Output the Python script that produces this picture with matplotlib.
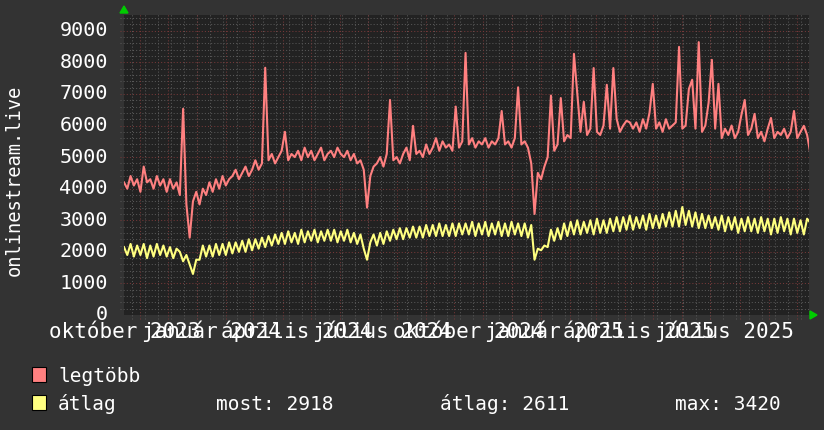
import matplotlib
matplotlib.use("Agg")
import matplotlib.pyplot as plt
import matplotlib.transforms as mtransforms
from matplotlib.patches import Rectangle, Polygon
import numpy as np

# ---------------- data (one value every 3.5 days, starting 2023-10-15) ----------------
max_vals = [
    4200, 4000, 4400, 4100, 4300, 3900, 4700, 4200, 4300, 4000, 4400, 4100, 4300, 3900, 4300, 4000, 4200,
    3800, 6530, 3500, 2450, 3600, 3900, 3500, 4000, 3800, 4200, 3900, 4300, 4000, 4400, 4100, 4300,
    4400, 4600, 4300, 4500, 4700, 4400, 4600, 4900, 4600, 4800, 7830, 4900,
    5100, 4800, 5000, 5200, 5800, 4900, 5100, 5000, 5200, 4900, 5300, 5000, 5200, 4900, 5100, 5300, 4900, 5100, 5200,
    5000, 5300, 5100, 5000, 5200, 4900, 5100, 4800, 4900, 4600,
    3400, 4400, 4700, 4800, 5000, 4700, 5100, 6810, 4900, 5000, 4800, 5100, 5300, 4900, 5990, 5100, 5200,
    5000, 5400, 5100, 5300, 5600, 5200, 5500, 5300, 5400, 5200, 6600, 5300, 5500, 8300,
    5400, 5600, 5300, 5500, 5400, 5600, 5300, 5500, 5400, 5600, 6460, 5400, 5500, 5300, 5600, 7210, 5400, 5500, 5300, 4800,
    3200, 4500, 4300, 4700, 5000, 6950, 5200, 5400, 6870, 5500, 5700, 5600, 8270, 7030, 5800, 6750, 5700, 5900, 7820, 5800,
    5700, 6000, 7290, 5900, 7820, 6210, 5800,
    6000, 6150, 6100, 5900, 6100, 5800, 6200, 5900, 6400, 7320, 5900, 6100, 5800, 6200, 5900, 6000, 6100, 8490, 5900, 6000,
    7160, 7450, 5900, 8640,
    5800, 6000, 6720, 8080, 5900, 7320, 5600, 5900, 5700, 6000, 5600, 5800, 6340, 6810, 5700, 5900, 6370, 5600, 5800, 5500,
    5900, 6240, 5600, 5800, 5700, 5900, 5600, 5800, 6460, 5600, 5800, 5990, 5700, 5100,
]

avg_vals = [
    2150, 1900, 2250, 1850, 2200, 1900, 2250, 1800, 2200, 1850, 2250, 1900, 2200, 1850, 2150, 1800, 2100,
    2000, 1700, 1900, 1600, 1300, 1750,
    1750, 2200, 1850, 2200, 1850, 2250, 1900, 2250, 1900, 2300, 1950, 2300, 2000, 2350, 2000, 2400, 2050, 2400, 2100,
    2450, 2150,
    2500, 2200, 2550, 2250, 2600, 2250, 2650, 2300, 2600, 2250, 2700, 2300, 2650, 2350, 2700, 2300, 2650, 2350, 2700, 2350,
    2700, 2300, 2650, 2350, 2700, 2300, 2600, 2250, 2550, 2100,
    1750, 2300, 2550, 2200, 2600, 2250,
    2650, 2350, 2700, 2400, 2750, 2400, 2750, 2450, 2800, 2450, 2800, 2450, 2850, 2500, 2850, 2500, 2900, 2500, 2850, 2500,
    2900, 2500, 2900, 2550, 2900,
    2550, 2950, 2500, 2900, 2550, 2950, 2500, 2900, 2550, 2950, 2500, 2900, 2500, 2950, 2550, 2900, 2500, 2900, 2450, 2850,
    1750, 2100, 2050, 2200, 2150, 2700, 2350, 2750, 2400,
    2900, 2500, 2950, 2550, 3000, 2550, 2950, 2600, 3000, 2550, 3050, 2600, 3000, 2600, 3050, 2650, 3100, 2650,
    3100, 2700, 3150, 2700, 3100, 2750, 3150, 2700, 3200, 2750, 3150, 2750, 3200, 2800, 3250, 2800, 3300, 2800, 3420, 2850,
    3300, 2800, 3250, 2750,
    3200, 2750, 3150, 2750, 3100, 2700, 3150, 2650, 3100, 2700, 3100, 2600, 3050, 2650, 3100, 2650, 3050, 2600, 3100, 2650,
    3050, 2550, 3050, 2600, 3100, 2650, 3050, 2550, 3050, 2600, 3000, 2550, 3050, 2918,
]

month_labels = ["október 2023", "január 2024", "április 2024", "július 2024",
                "október 2024", "január 2025", "április 2025", "július 2025"]
label_months = ["2023-10", "2024-01", "2024-04", "2024-07", "2024-10", "2025-01", "2025-04", "2025-07"]
y_ticks = [0, 1000, 2000, 3000, 4000, 5000, 6000, 7000, 8000, 9000]
legend_names = ["legtöbb", "átlag"]
stats = {"most": 2918, "átlag": 2611, "max": 3420}

# ---------------- figure ----------------
W, H = 824, 430
BG = "#333333"
PLOT_BG = "#222222"
RED = "#ff8080"
YEL = "#ffff80"
TXT = "#ffffff"
FONT = "DejaVu Sans Mono"

fig = plt.figure(figsize=(W / 100, H / 100), dpi=100)
fig.patch.set_facecolor(BG)
L, R, T, B = 124, 809, 15, 315
ax = fig.add_axes([L / W, 1 - B / H, (R - L) / W, (B - T) / H])
ax.set_facecolor(PLOT_BG)
for s in ax.spines.values():
    s.set_visible(False)

start = np.datetime64("2023-10-15T00:00")
end = start + np.timedelta64(730, "D")
step = np.timedelta64(84, "h")
max_dates = start + step * np.arange(len(max_vals))
avg_dates = start + step * np.arange(len(avg_vals))

ax.set_xlim(start, end)
ax.set_ylim(0, 9500)
ax.set_xticks([])
ax.set_yticks([])

# grid
minor_col = "#575757"
major_col = "#743838"
dot = (0, (1, 2))
bl = mtransforms.blended_transform_factory(ax.transData, ax.transAxes)
bl_y = mtransforms.blended_transform_factory(ax.transAxes, ax.transData)

biweekly = np.arange(np.datetime64("2023-10-23"), np.datetime64("2025-10-15"), np.timedelta64(14, "D"))
months = np.arange(np.datetime64("2023-11"), np.datetime64("2025-11"), np.timedelta64(1, "M")).astype("datetime64[D]")
for d in biweekly:
    ax.plot([d, d], [-0.012, 1.008], transform=bl, color=minor_col, lw=0.75, ls=dot, clip_on=False, zorder=1)
for d in months:
    ax.plot([d, d], [-0.012, 1.008], transform=bl, color=major_col, lw=0.75, ls=dot, clip_on=False, zorder=1.1)
for v in range(200, 9500, 200):
    if v % 1000:
        ax.plot([-0.006, 1.0], [v, v], transform=bl_y, color=minor_col, lw=0.75, ls=dot, clip_on=False, zorder=1)
for v in range(1000, 9500, 1000):
    ax.plot([-0.006, 1.0], [v, v], transform=bl_y, color=major_col, lw=0.75, ls=dot, clip_on=False, zorder=1.1)

# data lines
ax.plot(max_dates, max_vals, color=RED, lw=1.5, zorder=3)
ax.plot(avg_dates, avg_vals, color=YEL, lw=1.5, zorder=4)


def px(x, y):
    return x / W, 1 - y / H


# y tick labels
for v in y_ticks:
    ypix = B - v * (B - T) / 9500
    fig.text(*px(108, ypix), f"{v}", ha="right", va="center", color=TXT, fontsize=14.5, family=FONT)

# y axis title
fig.text(*px(14, 180), "onlinestream.live", rotation=90, ha="center", va="center",
         color=TXT, fontsize=13.5, family=FONT)

# x labels, centred half a month after the month start, common baseline
base_ax = (B - 338) / (B - T)
for lab, m in zip(month_labels, label_months):
    d = np.datetime64(m + "-16")
    ax.text(d, base_ax, lab, transform=bl, ha="center", va="baseline", color=TXT,
            fontsize=15, family=FONT, clip_on=False)

# arrows
fig.patches.append(Polygon([px(120, 13), px(128, 13), px(124, 6)], closed=True,
                           transform=fig.transFigure, color="#00cc00"))
fig.patches.append(Polygon([px(810, 311), px(810, 319), px(817, 315)], closed=True,
                           transform=fig.transFigure, color="#00cc00"))

# legend
for i, (name, col) in enumerate(zip(legend_names, [RED, YEL])):
    ytop = 367 + i * 28
    x0, y0 = px(32, ytop + 15)
    fig.patches.append(Rectangle((x0, y0), 14 / W, 15 / H, transform=fig.transFigure,
                                 facecolor=col, edgecolor="black", lw=0.8))
    fig.text(*px(58, ytop + 15), name, ha="left", va="baseline", color=TXT, fontsize=14, family=FONT)

yrow = 367 + 28 + 15
fig.text(*px(216, yrow), f"most: {stats['most']}", ha="left", va="baseline", color=TXT, fontsize=14, family=FONT)
fig.text(*px(440, yrow), f"átlag: {stats['átlag']}", ha="left", va="baseline", color=TXT, fontsize=14, family=FONT)
fig.text(*px(675, yrow), f"max: {stats['max']}", ha="left", va="baseline", color=TXT, fontsize=14, family=FONT)

fig.savefig("out.png", dpi=100, facecolor=BG)
